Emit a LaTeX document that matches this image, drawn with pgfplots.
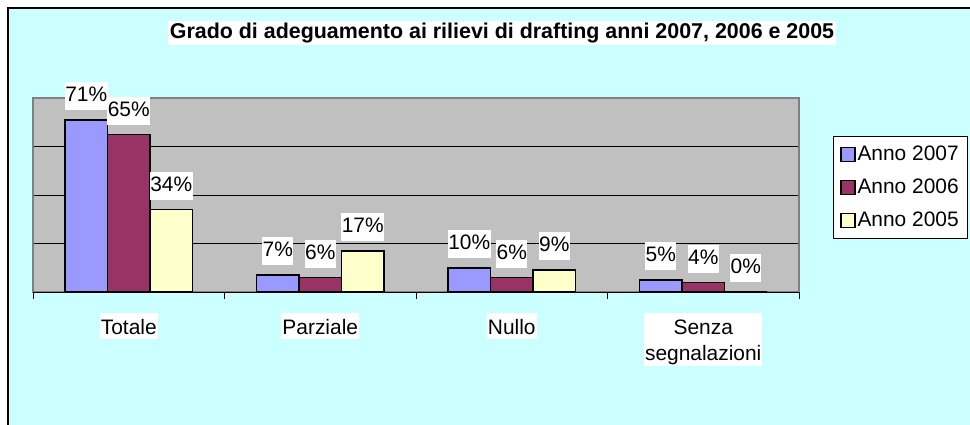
\documentclass[border=0pt]{standalone}
\usepackage{pgfplots}
\pgfplotsset{compat=1.18}
\usepackage{fontspec}
\setmainfont{Liberation Sans}

\definecolor{bgcyan}{HTML}{CCFFFF}
\definecolor{plotgray}{HTML}{C0C0C0}
\definecolor{axisgray}{HTML}{808080}
\definecolor{c2007}{HTML}{9999FF}
\definecolor{c2006}{HTML}{993366}
\definecolor{c2005}{HTML}{FFFFCC}

% fixed line height for category labels
\newcommand{\lb}[1]{\rule[-4bp]{0pt}{24bp}#1}

\pgfplotsset{
  sqlegend/.style={legend image code/.code={
    \draw[##1, line width=1.5bp] (0bp,-7bp) rectangle (14bp,7bp);}},
}

\begin{document}
\begin{tikzpicture}
\useasboundingbox (0,0) rectangle (970bp,-425bp);
\fill[white] (0,0) rectangle (970bp,-425bp);
\draw[black, line width=1.5bp, fill=bgcyan] (8bp,-8bp) rectangle (1000bp,-450bp);
\node[fill=white, inner sep=1.5bp, font=\bfseries\fontsize{21.5}{25}\selectfont]
  at (502bp,-33bp) {Grado di adeguamento ai rilievi di drafting anni 2007, 2006 e 2005};

\begin{axis}[
  at={(33bp,-292bp)}, anchor=south west,
  scale only axis, width=766bp, height=194bp,
  xmin=-0.5, xmax=3.5, ymin=0, ymax=80,
  clip=false,
  ybar=0pt, bar width=42.5bp,
  xtick={0,1,2,3},
  xticklabels={\lb{Totale},\lb{Parziale},\lb{Nullo},{\lb{Senza}\\\lb{segnalazioni}}},
  xticklabel style={anchor=north, inner sep=1bp, yshift=-17bp, align=center,
    fill=white, font=\fontsize{21}{26}\selectfont},
  ytick={0,20,40,60,80}, yticklabels={},
  ymajorgrids, grid style={black, line width=1bp},
  tick style={draw=none},
  axis background/.style={fill=plotgray},
  axis line style={draw=axisgray, line width=2bp},
  /pgf/number format/assume math mode=true,
  nodes near coords={\pgfmathprintnumber{\pgfplotspointmeta}\%},
  nodes near coords style={fill=white, inner xsep=0.5bp, inner ysep=4.5bp,
    text height=15bp, text depth=4bp, yshift=9bp, font=\fontsize{21}{25}\selectfont},
  legend style={at={(1.0444,0.804)}, anchor=north west, draw=black, line width=1bp,
    fill=white, font=\fontsize{21}{25}\selectfont, inner sep=6.5bp, row sep=10bp,
    nodes={inner sep=2bp, text height=15bp, text depth=4bp}},
  legend cell align=left,
]
\addplot[fill=c2007, draw=black, line width=1.5bp, sqlegend]
  coordinates {(0,71) (1,7) (2,10) (3,5)};
\addplot[fill=c2006, draw=black, line width=1.5bp, sqlegend]
  coordinates {(0,65) (1,6) (2,6) (3,4)};
\addplot[fill=c2005, draw=black, line width=1.5bp, sqlegend]
  coordinates {(0,34) (1,17) (2,9) (3,0)};
\legend{Anno 2007, Anno 2006, Anno 2005}

\draw[black, line width=1bp] (axis cs:-0.5,0) -- (axis cs:3.5,0);
\draw[black, line width=1bp]
  (axis cs:-0.5,0) -- ([yshift=-7bp]axis cs:-0.5,0)
  (axis cs:0.5,0) -- ([yshift=-7bp]axis cs:0.5,0)
  (axis cs:1.5,0) -- ([yshift=-7bp]axis cs:1.5,0)
  (axis cs:2.5,0) -- ([yshift=-7bp]axis cs:2.5,0)
  (axis cs:3.5,0) -- ([yshift=-7bp]axis cs:3.5,0);
\end{axis}
\end{tikzpicture}
\end{document}
